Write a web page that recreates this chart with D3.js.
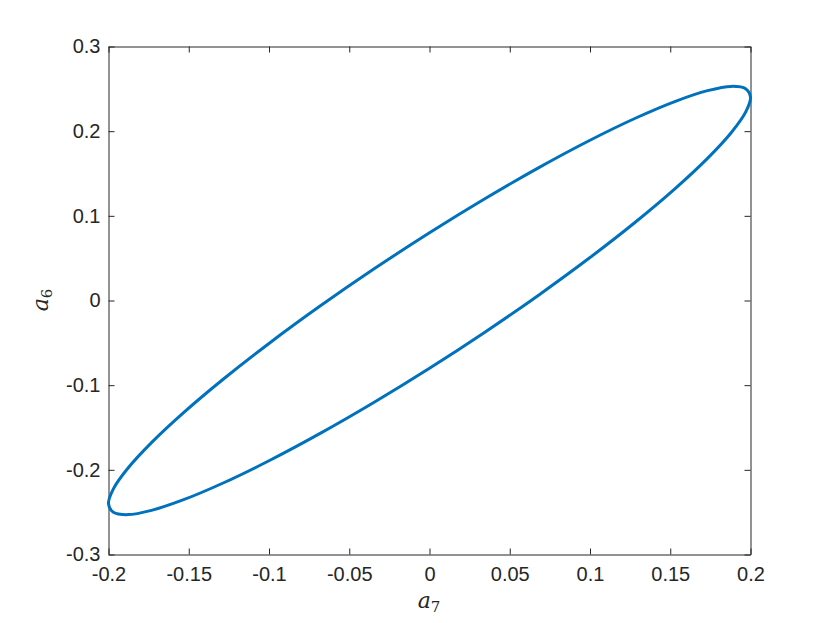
<!DOCTYPE html>
<html><head><meta charset="utf-8">
<script src="https://cdn.jsdelivr.net/npm/d3@7"></script>
<style>body{margin:0;background:#fff}</style>
</head><body>
<svg id="c" width="830" height="623"></svg>
<script>
const xTicks = [-0.2,-0.15,-0.1,-0.05,0,0.05,0.1,0.15,0.2];
const xTickLabels = ["-0.2","-0.15","-0.1","-0.05","0","0.05","0.1","0.15","0.2"];
const yTicks = [-0.3,-0.2,-0.1,0,0.1,0.2,0.3];
const yTickLabels = ["-0.3","-0.2","-0.1","0","0.1","0.2","0.3"];
const curveX = [0.2,0.19696,0.18794,0.17321,0.15321,0.12856,0.1,0.0684,0.03473,0,-0.03473,-0.0684,-0.1,-0.12856,-0.15321,-0.17321,-0.18794,-0.19696,
  -0.2,-0.19696,-0.18794,-0.17321,-0.15321,-0.12856,-0.1,-0.0684,-0.03473,0,0.03473,0.0684,0.1,0.12856,0.15321,0.17321,0.18794,0.19696];
const curveY = [0.24,0.2502,0.2529,0.24785,0.23527,0.21555,0.18928,0.15726,0.12045,0.08,0.03711,-0.0069,-0.05072,-0.09299,-0.13243,-0.16785,-0.19817,-0.22246,
  -0.24,-0.2502,-0.2529,-0.24785,-0.23527,-0.21555,-0.18928,-0.15726,-0.12045,-0.08,-0.03711,0.0069,0.05072,0.09299,0.13243,0.16785,0.19817,0.22246];

const L=108.5,R=750.5,T=46.5,B=554.5;
const svg=d3.select("#c");
const x=d3.scaleLinear().domain([-0.2,0.2]).range([L,R]);
const y=d3.scaleLinear().domain([-0.3,0.3]).range([B,T]);
const ax="#262626";
const font="'Liberation Sans', Arial, Helvetica, sans-serif";

const gx=svg.append("g").attr("transform",`translate(0,${B})`)
  .call(d3.axisBottom(x).tickValues(xTicks).tickFormat((d,i)=>xTickLabels[i]).tickSizeInner(-6).tickSizeOuter(0).tickPadding(12));
const gxt=svg.append("g").attr("transform",`translate(0,${T})`)
  .call(d3.axisTop(x).tickValues(xTicks).tickFormat("").tickSizeInner(-6).tickSizeOuter(0));
const gy=svg.append("g").attr("transform",`translate(${L},0)`)
  .call(d3.axisLeft(y).tickValues(yTicks).tickFormat((d,i)=>yTickLabels[i]).tickSizeInner(-6).tickSizeOuter(0).tickPadding(8));
const gyr=svg.append("g").attr("transform",`translate(${R},0)`)
  .call(d3.axisRight(y).tickValues(yTicks).tickFormat("").tickSizeInner(-6).tickSizeOuter(0));
[gx,gxt,gy,gyr].forEach(g=>{
  g.selectAll("path,line").attr("stroke",ax).attr("stroke-width",1);
  g.selectAll("text").attr("fill",ax).style("font-family",font).style("font-size","20px");
});
gx.selectAll("text").attr("dy","0.71em");

const pts=curveX.map((v,i)=>[v,curveY[i]]);
svg.append("path").datum(pts)
  .attr("d",d3.line().x(d=>x(d[0])).y(d=>y(d[1])).curve(d3.curveCatmullRomClosed.alpha(0.5)))
  .attr("fill","none").attr("stroke","#0072BD").attr("stroke-width",3);

// axis labels
const xl=svg.append("text").attr("x",429).attr("y",608).attr("text-anchor","middle")
  .style("font-family","'DejaVu Serif','Liberation Serif',serif").style("font-size","22px").attr("fill",ax);
xl.append("tspan").style("font-style","italic").text("a");
xl.append("tspan").attr("dy",4).style("font-size","15px").text("7");

const yl=svg.append("text").attr("transform","translate(48,300) rotate(-90)").attr("text-anchor","middle")
  .style("font-family","'DejaVu Serif','Liberation Serif',serif").style("font-size","22px").attr("fill",ax);
yl.append("tspan").style("font-style","italic").text("a");
yl.append("tspan").attr("dy",4).style("font-size","15px").text("6");
</script>
</body></html>
